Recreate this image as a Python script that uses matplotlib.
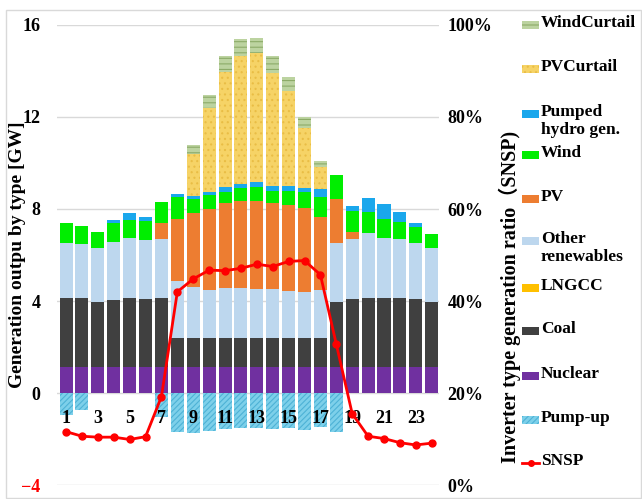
import matplotlib
matplotlib.use("Agg")
import matplotlib.pyplot as plt
import numpy as np
from matplotlib.patches import Rectangle
from matplotlib.lines import Line2D

# hourly generation by type [GW]
hours = list(range(1, 25))
nuclear = [1.12] * 24
coal = [3.02, 3.02, 2.82, 2.92, 3.02, 2.98, 3.02, 1.26, 1.26, 1.26, 1.26, 1.26,
        1.26, 1.26, 1.26, 1.26, 1.26, 2.85, 2.98, 3.02, 3.02, 3.02, 2.98, 2.82]
lngcc = [0.0] * 24
other_ren = [2.37, 2.32, 2.35, 2.51, 2.58, 2.55, 2.54, 2.49, 2.24, 2.10, 2.20, 2.17,
             2.14, 2.14, 2.05, 2.01, 2.12, 2.57, 2.61, 2.80, 2.58, 2.54, 2.42, 2.35]
pv = [0, 0, 0, 0, 0, 0, 0.73, 2.71, 3.19, 3.54, 3.67, 3.78,
      3.84, 3.75, 3.75, 3.66, 3.17, 1.88, 0.29, 0, 0, 0, 0, 0]
wind = [0.87, 0.80, 0.72, 0.83, 0.80, 0.81, 0.88, 0.93, 0.64, 0.59, 0.50, 0.57,
        0.58, 0.53, 0.62, 0.68, 0.87, 1.06, 0.92, 0.94, 0.83, 0.77, 0.69, 0.62]
pumped_gen = [0, 0, 0, 0.14, 0.29, 0.18, 0, 0.13, 0.11, 0.14, 0.22, 0.17,
              0.23, 0.21, 0.21, 0.20, 0.33, 0, 0.19, 0.58, 0.65, 0.41, 0.18, 0]
pv_curtail = [0, 0, 0, 0, 0, 0, 0, 0, 1.84, 3.63, 5.00, 5.58,
              5.60, 4.92, 4.12, 2.58, 0.95, 0, 0, 0, 0, 0, 0, 0]
wind_curtail = [0, 0, 0, 0, 0, 0, 0, 0, 0.40, 0.58, 0.68, 0.74,
                0.68, 0.72, 0.62, 0.48, 0.26, 0, 0, 0, 0, 0, 0, 0]
pump_up = [-0.96, -0.74, 0, 0, 0, 0, -1.03, -1.68, -1.72, -1.64, -1.57, -1.51,
           -1.51, -1.57, -1.51, -1.61, -1.46, -1.71, 0, 0, 0, 0, 0, 0]
# SNSP [%]
snsp = [11.6, 10.6, 10.4, 10.4, 9.9, 10.5, 19.2, 42.0, 44.8, 46.7, 46.6, 47.1,
        48.0, 47.5, 48.6, 48.8, 45.7, 30.6, 15.5, 10.6, 10.1, 9.2, 8.7, 9.1]

SERIF = ["Liberation Serif", "DejaVu Serif"]
plt.rcParams["hatch.linewidth"] = 0.8

fig = plt.figure(figsize=(6.42, 4.99), dpi=100)
W, H = 642.0, 499.0
ax = fig.add_axes([57 / W, 14 / H, 382 / W, 460 / H])
ax2 = ax.twinx()

# (values, label, face colour, hatch, hatch colour)
stack = [
    (nuclear, "Nuclear", "#7030a0", None, "none"),
    (coal, "Coal", "#404040", None, "none"),
    (lngcc, "LNGCC", "#ffc000", None, "none"),
    (other_ren, "Other renewables", "#bdd7ee", None, "none"),
    (pv, "PV", "#ed7d31", None, "none"),
    (wind, "Wind", "#00ee00", None, "none"),
    (pumped_gen, "Pumped hydro gen.", "#1aa7ec", None, "none"),
    (pv_curtail, "PVCurtail", "#f6d366", "...", "#e9bd45"),
    (wind_curtail, "WindCurtail", "#bcd3a0", "---", "#8cab68"),
]

bw = 0.82
bottom = np.zeros(len(hours))
for vals, lab, col, hatch, hcol in stack:
    vals = np.array(vals, dtype=float)
    ax.bar(hours, vals, bw, bottom=bottom, color=col, hatch=hatch,
           edgecolor=hcol, linewidth=0, zorder=2)
    bottom += vals

ax.bar(hours, pump_up, bw, color="#7dd0ea", hatch="//////", edgecolor="#4db2d6",
       linewidth=0, zorder=2)

ax.set_xlim(0.43, 24.46)
ax.set_ylim(-4, 16)
ax.set_yticks([-4, 0, 4, 8, 12, 16])
ax.yaxis.grid(True, color="#d9d9d9", linewidth=1)
ax.set_axisbelow(True)
ax.xaxis.set_zorder(3)  # hour labels sit on top of the pump-up bars
for s in ["top", "right", "left"]:
    ax.spines[s].set_visible(False)
ax.spines["bottom"].set_position(("data", 0))
ax.spines["bottom"].set_color("none")
ax.set_xticks(hours[::2])
ax.set_xticklabels([str(h) for h in hours[::2]])
ax.tick_params(axis="x", length=0, pad=12)
ax.tick_params(axis="y", length=0, pad=12)
for lab in ax.get_xticklabels() + ax.get_yticklabels():
    lab.set_fontfamily(SERIF)
    lab.set_fontweight("bold")
    lab.set_fontsize(13)
ax.get_yticklabels()[0].set_color("#ff0000")

ax2.plot(hours, np.array(snsp) / 100, color="#ff0000", linewidth=2,
         marker="o", markersize=5, zorder=5)
ax2.set_ylim(0, 1)
ax2.set_yticks([0, 0.2, 0.4, 0.6, 0.8, 1.0])
ax2.set_yticklabels(["0%", "20%", "40%", "60%", "80%", "100%"])
ax2.tick_params(axis="y", length=0, pad=6)
for s in ax2.spines.values():
    s.set_visible(False)
for lab in ax2.get_yticklabels():
    lab.set_fontfamily(SERIF)
    lab.set_fontweight("bold")
    lab.set_fontsize(13)

fig.text(18 / W, 1 - 255 / H, "Generation outpu by type [GW]", rotation=90,
         ha="center", va="center", fontsize=14, fontweight="bold", family=SERIF)
fig.text(510 / W, 1 - 297 / H, "Inverter type generation ratio\uff08SNSP)",
         rotation=90, ha="center", va="center", fontsize=14.5, fontweight="bold",
         family=["Liberation Serif", "Noto Sans CJK JP"])

# legend, drawn by hand to follow the reference layout
legend_items = [
    ("WindCurtail", 25, "#bcd3a0", "---", "#8cab68"),
    ("PVCurtail", 69, "#f6d366", "...", "#e9bd45"),
    ("Pumped\nhydro gen.", 114, "#1aa7ec", None, "none"),
    ("Wind", 155, "#00ee00", None, "none"),
    ("PV", 199, "#ed7d31", None, "none"),
    ("Other\nrenewables", 241, "#bdd7ee", None, "none"),
    ("LNGCC", 288, "#ffc000", None, "none"),
    ("Coal", 331, "#404040", None, "none"),
    ("Nuclear", 376, "#7030a0", None, "none"),
    ("Pump-up", 420, "#7dd0ea", "//////", "#4db2d6"),
]
for text, yc, col, hatch, hcol in legend_items:
    fig.add_artist(Rectangle((522 / W, 1 - (yc + 4) / H), 17 / W, 8 / H,
                             facecolor=col, hatch=hatch, edgecolor=hcol,
                             linewidth=0, transform=fig.transFigure))
    fig.text(541 / W, 1 - (yc - 10) / H, text, ha="left", va="top",
             fontsize=12.5, fontweight="bold", family=SERIF, linespacing=1.15)
fig.add_artist(Line2D([522 / W, 530.5 / W, 539 / W], [1 - 463 / H] * 3,
                      color="#ff0000", linewidth=2, marker="o", markersize=4,
                      markevery=[1], transform=fig.transFigure))
fig.text(541 / W, 1 - 453 / H, "SNSP", ha="left", va="top",
         fontsize=12.5, fontweight="bold", family=SERIF)

fig.add_artist(Rectangle((6 / W, 1 / H), 635 / W, 488 / H, fill=False,
                         edgecolor="#d9d9d9", linewidth=1,
                         transform=fig.transFigure))

fig.savefig("out.png", dpi=100)
